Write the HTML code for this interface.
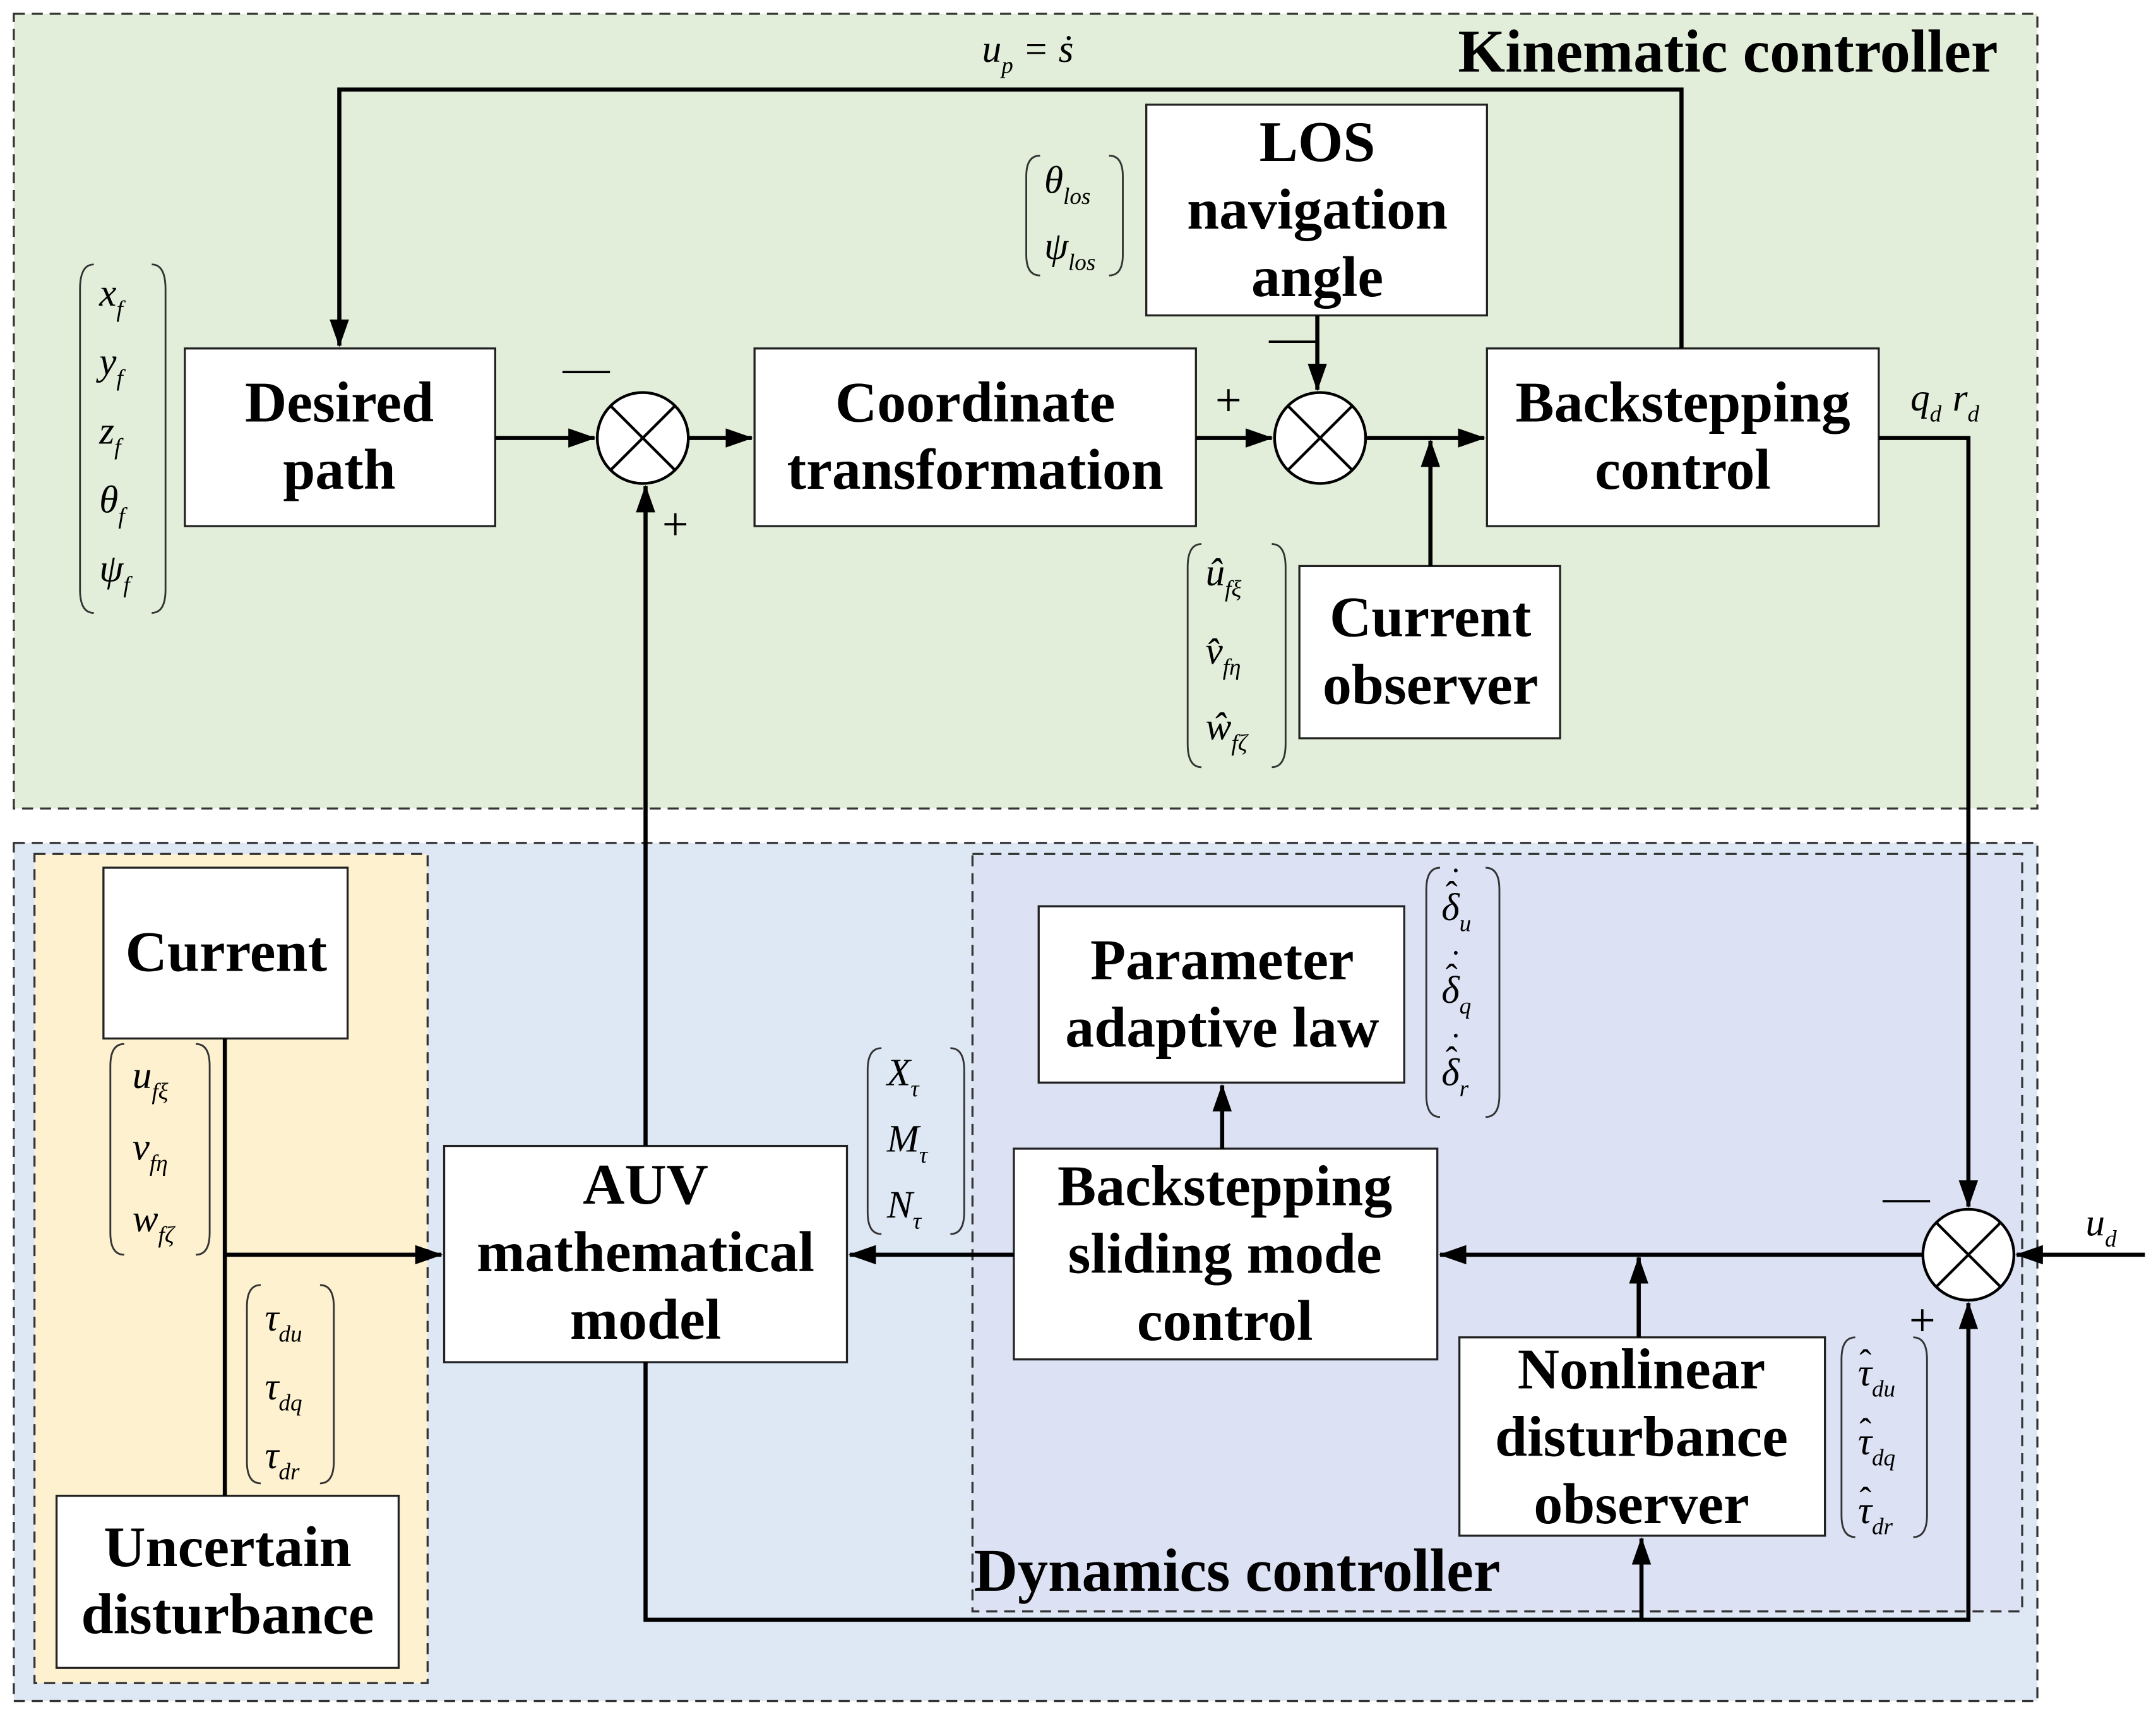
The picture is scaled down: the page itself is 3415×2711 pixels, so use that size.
<!DOCTYPE html>
<html><head><meta charset="utf-8"><style>
html,body{margin:0;padding:0;background:#fff;}
svg{display:block;}
.b{font-family:"Liberation Serif",serif;font-weight:bold;font-size:42px;text-anchor:middle;fill:#000;}
.m{font-family:"Liberation Serif",serif;font-style:italic;font-size:28px;fill:#000;}
.s{font-size:17px;}
.h{font-family:"Liberation Serif",serif;font-size:26px;fill:#000;}
.t{font-family:"Liberation Serif",serif;font-weight:bold;font-size:44px;fill:#000;}
.sg{font-family:"Liberation Serif",serif;font-size:34px;fill:#000;}
</style></head><body>
<svg width="3415" height="2711" viewBox="0 0 1563 1243" preserveAspectRatio="none" xmlns="http://www.w3.org/2000/svg">
<defs><marker id="A" markerWidth="20" markerHeight="14" refX="19" refY="7" orient="auto" markerUnits="userSpaceOnUse"><path d="M0,0 L20,7 L0,14 Z" fill="#000"/></marker></defs>
<rect x="0" y="0" width="1563" height="1243" fill="#fff"/>
<rect x="10" y="10" width="1467" height="577" fill="#e2eed9" stroke="#333" stroke-width="1.5" stroke-dasharray="8,5"/>
<rect x="10" y="612" width="1467" height="623" fill="#dee8f5" stroke="#333" stroke-width="1.5" stroke-dasharray="8,5"/>
<rect x="25" y="620" width="285" height="602" fill="#fdf1cf" stroke="#333" stroke-width="1.5" stroke-dasharray="8,5"/>
<rect x="705" y="620" width="761" height="550" fill="#dce1f3" stroke="#333" stroke-width="1.5" stroke-dasharray="8,5"/>
<g fill="#fff" stroke="#222" stroke-width="1.5">
<rect x="134" y="253" width="225" height="129"/>
<rect x="547" y="253" width="320" height="129"/>
<rect x="831" y="76" width="247" height="153"/>
<rect x="1078" y="253" width="284" height="129"/>
<rect x="942" y="411" width="189" height="125"/>
<rect x="75" y="630" width="177" height="124"/>
<rect x="41" y="1086" width="248" height="125"/>
<rect x="322" y="832" width="292" height="157"/>
<rect x="753" y="658" width="265" height="128"/>
<rect x="735" y="834" width="307" height="153"/>
<rect x="1058" y="971" width="265" height="144"/>
</g>
<g fill="#fff" stroke="#000" stroke-width="2">
<circle cx="466" cy="318" r="33"/><path d="M443,295 L489,341 M489,295 L443,341"/>
<circle cx="957" cy="318" r="33"/><path d="M934,295 L980,341 M980,295 L934,341"/>
<circle cx="1427" cy="911" r="33"/><path d="M1404,888 L1450,934 M1450,888 L1404,934"/>
</g>
<g stroke="#000" stroke-width="3" fill="none">
<path d="M1219,253 V65 H246 V251" marker-end="url(#A)"/>
<path d="M359,318 H431" marker-end="url(#A)"/>
<path d="M499,318 H545" marker-end="url(#A)"/>
<path d="M867,318 H922" marker-end="url(#A)"/>
<path d="M990,318 H1076" marker-end="url(#A)"/>
<path d="M955,229 V283" marker-end="url(#A)"/>
<path d="M1037,411 V320" marker-end="url(#A)"/>
<path d="M1362,318 H1427 V876" marker-end="url(#A)"/>
<path d="M1555,911 H1462" marker-end="url(#A)"/>
<path d="M1394,911 H1044" marker-end="url(#A)"/>
<path d="M1188,971 V913" marker-end="url(#A)"/>
<path d="M735,911 H616" marker-end="url(#A)"/>
<path d="M886,834 V788" marker-end="url(#A)"/>
<path d="M468,832 V353" marker-end="url(#A)"/>
<path d="M468,989 V1176 H1427 V946" marker-end="url(#A)"/>
<path d="M1190,1176 V1117" marker-end="url(#A)"/>
<path d="M163,754 V1086"/>
<path d="M163,911 H320" marker-end="url(#A)"/>
</g>
<text class="b" x="246" y="306">Desired</text><text class="b" x="246" y="355">path</text>
<text class="b" x="707" y="306">Coordinate</text><text class="b" x="707" y="355">transformation</text>
<text class="b" x="955" y="117">LOS</text><text class="b" x="955" y="166">navigation</text><text class="b" x="955" y="215">angle</text>
<text class="b" x="1220" y="306">Backstepping</text><text class="b" x="1220" y="355">control</text>
<text class="b" x="1037" y="462">Current</text><text class="b" x="1037" y="511">observer</text>
<text class="b" x="164" y="705">Current</text>
<text class="b" x="165" y="1137">Uncertain</text><text class="b" x="165" y="1186">disturbance</text>
<text class="b" x="468" y="874">AUV</text><text class="b" x="468" y="923">mathematical</text><text class="b" x="468" y="972">model</text>
<text class="b" x="886" y="711">Parameter</text><text class="b" x="886" y="760">adaptive law</text>
<text class="b" x="888" y="875">Backstepping</text><text class="b" x="888" y="924">sliding mode</text><text class="b" x="888" y="973">control</text>
<text class="b" x="1190" y="1008">Nonlinear</text><text class="b" x="1190" y="1057">disturbance</text><text class="b" x="1190" y="1106">observer</text>
<text class="t" x="1057" y="52">Kinematic controller</text>
<text class="t" x="706" y="1155">Dynamics controller</text>
<g class="sg"><text x="408" y="278">—</text><text x="480" y="392">+</text><text x="881" y="302">+</text><text x="920" y="256">—</text><text x="1365" y="880">—</text><text x="1384" y="970">+</text></g>
<g stroke="#333" stroke-width="1.3" fill="none">
<path d="M68,192 Q58,192 58,210 V428 Q58,445 68,445"/><path d="M110,192 Q120,192 120,210 V428 Q120,445 110,445"/>
<path d="M754,113 Q744,113 744,128 V185 Q744,200 754,200"/><path d="M804,113 Q814,113 814,128 V185 Q814,200 804,200"/>
<path d="M871,395 Q861,395 861,412 V540 Q861,557 871,557"/><path d="M922,395 Q932,395 932,412 V540 Q932,557 922,557"/>
<path d="M90,758 Q80,758 80,774 V895 Q80,911 90,911"/><path d="M142,758 Q152,758 152,774 V895 Q152,911 142,911"/>
<path d="M189,933 Q179,933 179,949 V1061 Q179,1077 189,1077"/><path d="M232,933 Q242,933 242,949 V1061 Q242,1077 232,1077"/>
<path d="M639,761 Q629,761 629,777 V880 Q629,896 639,896"/><path d="M689,761 Q699,761 699,777 V880 Q699,896 689,896"/>
<path d="M1044,630 Q1034,630 1034,646 V795 Q1034,811 1044,811"/><path d="M1077,630 Q1087,630 1087,646 V795 Q1087,811 1077,811"/>
<path d="M1345,971 Q1335,971 1335,987 V1100 Q1335,1116 1345,1116"/><path d="M1387,971 Q1397,971 1397,987 V1100 Q1397,1116 1387,1116"/>
</g>
<g class="m">
<text x="712" y="45">u<tspan class="s" dy="8">p</tspan><tspan dy="-8"> = ṡ</tspan></text>
<text x="72" y="222">x<tspan class="s" dy="8">f</tspan></text>
<text x="72" y="272">y<tspan class="s" dy="8">f</tspan></text>
<text x="72" y="322">z<tspan class="s" dy="8">f</tspan></text>
<text x="72" y="372">θ<tspan class="s" dy="8">f</tspan></text>
<text x="72" y="422">ψ<tspan class="s" dy="8">f</tspan></text>
<text x="757" y="140">θ<tspan class="s" dy="8">los</tspan></text>
<text x="757" y="188">ψ<tspan class="s" dy="8">los</tspan></text>
<text x="874" y="425">û<tspan class="s" dy="8">fξ</tspan></text>
<text x="874" y="482">v̂<tspan class="s" dy="8">fη</tspan></text>
<text x="874" y="537">ŵ<tspan class="s" dy="8">fζ</tspan></text>
<text x="1385" y="298">q<tspan class="s" dy="8">d</tspan><tspan dx="8" dy="-8">r</tspan><tspan class="s" dy="8">d</tspan></text>
<text x="1512" y="897">u<tspan class="s" dy="8">d</tspan></text>
<text x="96" y="790">u<tspan class="s" dy="8">fξ</tspan></text>
<text x="96" y="842">v<tspan class="s" dy="8">fη</tspan></text>
<text x="96" y="894">w<tspan class="s" dy="8">fζ</tspan></text>
<text x="192" y="966">τ<tspan class="s" dy="8">du</tspan></text>
<text x="192" y="1016">τ<tspan class="s" dy="8">dq</tspan></text>
<text x="192" y="1066">τ<tspan class="s" dy="8">dr</tspan></text>
<text x="643" y="788">X<tspan class="s" dy="8">τ</tspan></text>
<text x="643" y="836">M<tspan class="s" dy="8">τ</tspan></text>
<text x="643" y="884">N<tspan class="s" dy="8">τ</tspan></text>
<text x="1045" y="668">δ<tspan class="s" dy="8">u</tspan></text>
<text x="1045" y="728">δ<tspan class="s" dy="8">q</tspan></text>
<text x="1045" y="788">δ<tspan class="s" dy="8">r</tspan></text>
<text x="1347" y="1006">τ<tspan class="s" dy="8">du</tspan></text>
<text x="1347" y="1056">τ<tspan class="s" dy="8">dq</tspan></text>
<text x="1347" y="1106">τ<tspan class="s" dy="8">dr</tspan></text>
</g>
<g class="h">
<text x="1048" y="658">ˆ</text><text x="1051" y="648">˙</text>
<text x="1048" y="718">ˆ</text><text x="1051" y="708">˙</text>
<text x="1048" y="778">ˆ</text><text x="1051" y="768">˙</text>
<text x="1348" y="998">ˆ</text>
<text x="1348" y="1048">ˆ</text>
<text x="1348" y="1098">ˆ</text>
</g>
</svg>
</body></html>
